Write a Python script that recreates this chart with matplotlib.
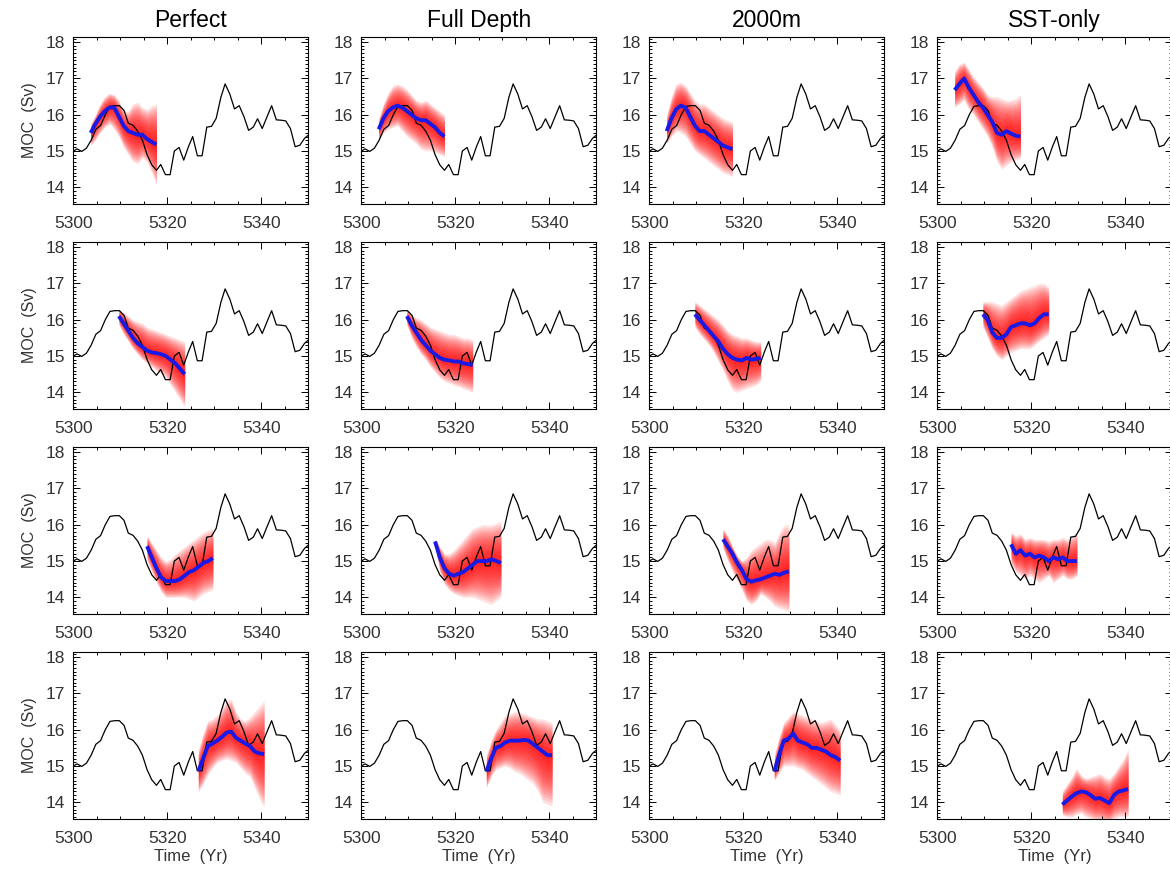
import numpy as np
import matplotlib
matplotlib.use('Agg')
import matplotlib.pyplot as plt
from matplotlib.ticker import MultipleLocator

plt.rcParams['font.family'] = ['Liberation Sans', 'DejaVu Sans']

experiments = ['Perfect', 'Full Depth', '2000m', 'SST-only']

# "truth" MOC time series (same in every panel)
truth_year = [5300.0, 5300.8, 5301.8, 5302.8, 5303.8, 5304.8, 5305.8, 5306.8, 5307.8, 5308.8,
              5309.8, 5310.8, 5311.7, 5312.7, 5313.7, 5314.7, 5315.7, 5316.7, 5317.7, 5318.6,
              5319.6, 5320.6, 5321.5, 5322.5, 5323.5, 5324.5, 5325.4, 5326.4, 5327.4, 5328.4,
              5329.4, 5330.4, 5331.4, 5332.3, 5333.3, 5334.3, 5335.3, 5336.3, 5337.3, 5338.3,
              5339.2, 5340.2, 5341.2, 5342.2, 5343.2, 5344.2, 5345.2, 5346.2, 5347.2, 5348.2,
              5349.2, 5350.2]
truth_moc = [15.0, 15.06, 14.99, 15.08, 15.3, 15.6, 15.7, 16.0, 16.23, 16.25,
             16.25, 16.12, 15.77, 15.71, 15.55, 15.3, 14.9, 14.62, 14.47, 14.63,
             14.35, 14.35, 15.0, 15.1, 14.75, 15.12, 15.4, 14.87, 14.87, 15.66,
             15.68, 15.9, 16.48, 16.85, 16.57, 16.16, 16.25, 15.95, 15.57, 15.66,
             15.89, 15.62, 15.94, 16.25, 15.86, 15.85, 15.83, 15.62, 15.12, 15.16,
             15.35, 15.46]

# forecast start years (one per row), 15 yearly values each
start_year = [5303.7, 5309.7, 5315.7, 5326.6]
n_lead = 15

# ensemble mean / upper / lower envelope, per experiment, one list per start
mean_perfect = [
    [15.5, 15.75, 15.95, 16.1, 16.2, 16.2, 15.95, 15.7, 15.55, 15.5, 15.45, 15.45, 15.33, 15.25, 15.18],
    [16.1, 15.9, 15.7, 15.5, 15.35, 15.25, 15.15, 15.1, 15.08, 15.05, 15.0, 14.9, 14.8, 14.65, 14.5],
    [15.41, 15.1, 14.8, 14.55, 14.45, 14.45, 14.45, 14.5, 14.6, 14.7, 14.75, 14.85, 14.95, 15.0, 15.08],
    [14.86, 15.2, 15.55, 15.62, 15.7, 15.8, 15.92, 15.95, 15.78, 15.7, 15.62, 15.55, 15.4, 15.35, 15.33],
]
hi_perfect = [
    [15.75, 16.0, 16.3, 16.5, 16.6, 16.55, 16.4, 16.1, 16.1, 16.3, 16.35, 16.2, 16.15, 16.25, 16.3],
    [16.3, 16.2, 16.1, 16.0, 15.95, 15.9, 15.8, 15.75, 15.7, 15.65, 15.6, 15.55, 15.5, 15.45, 15.4],
    [15.7, 15.5, 15.3, 15.1, 15.0, 15.05, 15.2, 15.3, 15.4, 15.5, 15.6, 15.7, 15.8, 15.85, 15.9],
    [15.45, 15.9, 16.25, 16.3, 16.4, 16.6, 16.8, 16.85, 16.5, 16.3, 16.25, 16.35, 16.5, 16.65, 16.8],
]
lo_perfect = [
    [15.15, 15.3, 15.5, 15.65, 15.75, 15.6, 15.4, 15.1, 14.9, 14.7, 14.65, 14.8, 14.7, 14.4, 14.05],
    [15.85, 15.6, 15.4, 15.2, 15.05, 14.9, 14.8, 14.7, 14.6, 14.5, 14.4, 14.2, 14.0, 13.8, 13.6],
    [15.0, 14.7, 14.4, 14.15, 14.0, 14.0, 14.0, 14.0, 14.0, 13.95, 13.9, 14.0, 14.1, 14.15, 14.2],
    [14.28, 14.5, 14.75, 14.95, 15.1, 15.15, 15.2, 15.15, 15.1, 14.95, 14.8, 14.7, 14.4, 14.1, 13.85],
]

mean_full = [
    [15.6, 15.9, 16.1, 16.2, 16.25, 16.2, 16.1, 16.0, 15.9, 15.85, 15.85, 15.75, 15.65, 15.5, 15.4],
    [16.1, 15.85, 15.65, 15.45, 15.3, 15.15, 15.05, 14.95, 14.9, 14.88, 14.85, 14.85, 14.8, 14.78, 14.75],
    [15.54, 15.1, 14.8, 14.65, 14.6, 14.65, 14.7, 14.8, 14.9, 15.0, 15.0, 15.0, 15.05, 15.0, 14.95],
    [14.85, 15.2, 15.5, 15.55, 15.65, 15.7, 15.7, 15.7, 15.72, 15.7, 15.6, 15.5, 15.4, 15.3, 15.3],
]
hi_full = [
    [15.9, 16.3, 16.6, 16.8, 16.85, 16.8, 16.7, 16.55, 16.4, 16.35, 16.4, 16.3, 16.2, 16.1, 16.0],
    [16.3, 16.15, 16.05, 16.0, 15.9, 15.8, 15.75, 15.7, 15.65, 15.6, 15.6, 15.55, 15.5, 15.5, 15.45],
    [15.6, 15.4, 15.2, 15.2, 15.3, 15.45, 15.6, 15.75, 15.9, 15.95, 16.0, 16.0, 16.0, 16.05, 16.1],
    [15.3, 15.7, 16.0, 16.2, 16.4, 16.45, 16.5, 16.5, 16.45, 16.4, 16.35, 16.3, 16.3, 16.25, 16.2],
]
lo_full = [
    [15.3, 15.5, 15.6, 15.65, 15.7, 15.55, 15.4, 15.3, 15.2, 15.05, 15.0, 15.0, 14.95, 14.9, 14.85],
    [15.85, 15.5, 15.25, 15.05, 14.9, 14.7, 14.55, 14.4, 14.3, 14.25, 14.2, 14.15, 14.1, 14.05, 14.0],
    [15.4, 14.7, 14.35, 14.2, 14.1, 14.05, 14.0, 14.0, 14.0, 13.95, 13.9, 13.85, 13.8, 13.9, 14.0],
    [14.4, 14.7, 14.9, 14.95, 15.0, 14.95, 14.85, 14.8, 14.7, 14.6, 14.5, 14.3, 14.0, 13.95, 13.9],
]

mean_2000 = [
    [15.55, 15.9, 16.15, 16.25, 16.2, 15.95, 15.7, 15.55, 15.55, 15.45, 15.35, 15.25, 15.15, 15.1, 15.05],
    [16.15, 16.0, 15.85, 15.7, 15.55, 15.4, 15.2, 15.05, 14.95, 14.9, 14.88, 14.95, 14.9, 14.92, 14.95],
    [15.6, 15.4, 15.2, 14.95, 14.75, 14.5, 14.43, 14.47, 14.5, 14.55, 14.6, 14.65, 14.62, 14.68, 14.72],
    [14.85, 15.3, 15.7, 15.75, 15.9, 15.7, 15.65, 15.6, 15.5, 15.5, 15.45, 15.4, 15.3, 15.25, 15.15],
]
hi_2000 = [
    [16.0, 16.5, 16.85, 16.9, 16.8, 16.6, 16.4, 16.3, 16.3, 16.2, 16.1, 16.0, 15.9, 15.85, 15.8],
    [16.5, 16.4, 16.3, 16.2, 16.1, 16.0, 15.85, 15.7, 15.6, 15.55, 15.5, 15.5, 15.45, 15.4, 15.4],
    [15.9, 15.7, 15.4, 15.15, 15.0, 15.1, 15.3, 15.4, 15.5, 15.6, 15.6, 15.5, 15.8, 16.0, 16.0],
    [15.3, 15.8, 16.2, 16.35, 16.5, 16.45, 16.4, 16.35, 16.3, 16.25, 16.2, 16.25, 16.3, 16.15, 16.0],
]
lo_2000 = [
    [15.2, 15.4, 15.55, 15.5, 15.4, 15.2, 15.0, 14.9, 14.8, 14.7, 14.6, 14.5, 14.4, 14.35, 14.3],
    [15.8, 15.6, 15.45, 15.3, 15.1, 14.85, 14.6, 14.3, 14.05, 14.0, 14.05, 14.1, 14.15, 14.2, 14.3],
    [15.35, 15.0, 14.7, 14.45, 14.2, 13.9, 13.8, 13.9, 14.1, 14.0, 13.9, 13.75, 13.7, 13.65, 13.6],
    [14.6, 14.8, 15.0, 15.0, 15.0, 14.95, 14.9, 14.8, 14.7, 14.6, 14.5, 14.4, 14.3, 14.25, 14.2],
]

mean_sst = [
    [16.68, 16.85, 17.0, 16.75, 16.55, 16.35, 16.2, 16.0, 15.8, 15.5, 15.45, 15.55, 15.48, 15.42, 15.4],
    [16.15, 16.0, 15.65, 15.5, 15.5, 15.6, 15.8, 15.85, 15.9, 15.9, 15.85, 15.9, 16.05, 16.15, 16.15],
    [15.46, 15.2, 15.3, 15.15, 15.2, 15.1, 15.15, 15.1, 15.0, 15.1, 15.05, 15.1, 15.0, 15.0, 15.0],
    [13.94, 14.05, 14.16, 14.25, 14.3, 14.28, 14.2, 14.1, 14.12, 14.05, 13.98, 14.2, 14.3, 14.33, 14.37],
]
hi_sst = [
    [17.2, 17.4, 17.45, 17.25, 17.05, 16.9, 16.75, 16.55, 16.5, 16.5, 16.45, 16.4, 16.4, 16.45, 16.55],
    [16.5, 16.5, 16.5, 16.45, 16.4, 16.5, 16.6, 16.7, 16.8, 16.85, 16.9, 16.95, 17.0, 17.0, 16.9],
    [15.8, 15.7, 15.75, 15.6, 15.65, 15.6, 15.6, 15.6, 15.55, 15.6, 15.6, 15.65, 15.6, 15.7, 15.8],
    [14.3, 14.5, 14.7, 14.94, 14.75, 14.66, 14.7, 14.75, 14.8, 14.7, 14.66, 14.8, 15.0, 15.2, 15.48],
]
lo_sst = [
    [16.2, 16.3, 16.4, 16.15, 16.0, 15.8, 15.6, 15.4, 15.1, 14.7, 14.5, 14.6, 14.7, 14.75, 14.8],
    [15.8, 15.5, 15.2, 15.0, 14.9, 15.0, 15.1, 15.15, 15.2, 15.2, 15.2, 15.3, 15.4, 15.5, 15.6],
    [14.9, 14.7, 14.6, 14.5, 14.6, 14.5, 14.4, 14.5, 14.6, 14.4, 14.5, 14.6, 14.5, 14.5, 14.6],
    [13.66, 13.6, 13.6, 13.66, 13.7, 13.6, 13.55, 13.5, 13.5, 13.45, 13.45, 13.55, 13.6, 13.6, 13.6],
]

means = [mean_perfect, mean_full, mean_2000, mean_sst]
his = [hi_perfect, hi_full, hi_2000, hi_sst]
los = [lo_perfect, lo_full, lo_2000, lo_sst]

# many thin translucent layers -> smooth fade from the mean out to the envelope
shade_fracs = np.linspace(1.0, 0.06, 16)
shade_alpha = 0.11

W, H = 1170, 877
fig = plt.figure(figsize=(W / 100, H / 100), dpi=100)

ax_left, ax_top = 73.3, 36.7
ax_w, ax_h = 235.0, 167.0
dx, dy = 288.0, 205.0

txt = '#333333'
for r in range(4):
    for c in range(4):
        x0 = ax_left + c * dx
        y0 = ax_top + r * dy
        ax = fig.add_axes([x0 / W, 1 - (y0 + ax_h) / H, ax_w / W, ax_h / H])

        t = start_year[r] + np.arange(n_lead)
        m = np.array(means[c][r])
        hi = np.array(his[c][r])
        lo = np.array(los[c][r])
        for frac in shade_fracs:
            ax.fill_between(t, m - frac * (m - lo), m + frac * (hi - m),
                            color='#ff0000', alpha=shade_alpha, lw=0, zorder=1)
        ax.plot(truth_year, truth_moc, color='black', lw=0.9, zorder=2)
        ax.plot(t, m, color='#1a1ae6', lw=2.8, zorder=3, solid_capstyle='butt')

        ax.set_xlim(5300, 5350)
        ax.set_ylim(13.55, 18.15)
        ax.set_xticks([5300, 5320, 5340])
        ax.set_yticks([14, 15, 16, 17, 18])
        ax.xaxis.set_minor_locator(MultipleLocator(5))
        ax.yaxis.set_minor_locator(MultipleLocator(0.1))
        ax.tick_params(which='both', direction='in', top=True, right=True,
                       colors='black', labelcolor=txt, labelsize=12.5, width=0.7)
        ax.tick_params(which='major', length=5)
        ax.tick_params(which='minor', length=2.5)
        ax.tick_params(axis='x', pad=9)
        ax.tick_params(axis='y', pad=6)
        for s in ax.spines.values():
            s.set_linewidth(0.8)

        if r == 0:
            ax.set_title(experiments[c], fontsize=16.5, pad=7)
        if c == 0:
            ax.set_ylabel('MOC  (Sv)', fontsize=11.5, color=txt, labelpad=6)
        if r == 3:
            ax.set_xlabel('Time  (Yr)', fontsize=12, color=txt, labelpad=2)

fig.savefig('out.png', dpi=100)
